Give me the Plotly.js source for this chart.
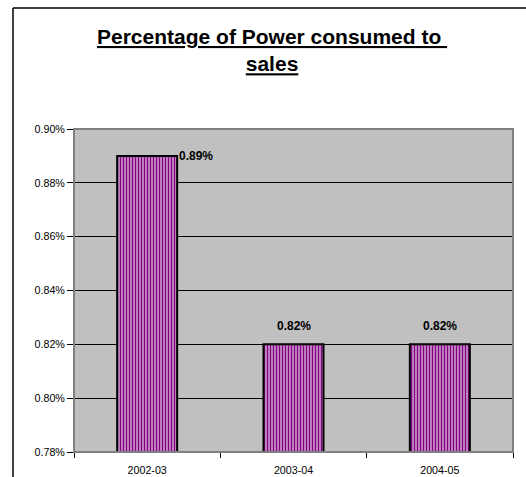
<!DOCTYPE html>
<html>
<head>
<meta charset="utf-8">
<script src="https://cdn.plot.ly/plotly-3.0.1.min.js"></script>
<style>
  html, body { margin: 0; padding: 0; background: #ffffff; }
  #chart { width: 526px; height: 477px; }
</style>
</head>
<body>
<div id="chart"></div>
<script>
// Power consumed as a percentage of sales, by financial year
const chartTitle = '<u>Percentage of Power consumed to </u><br><u>sales</u>';
const years = ['2002-03', '2003-04', '2004-05'];
const powerPct = [0.89, 0.82, 0.82];
const yTicks = [0.78, 0.80, 0.82, 0.84, 0.86, 0.88, 0.90];

const W = 526, H = 477;
const M = { l: 74, r: 13, t: 129, b: 25 };
const plotW = W - M.l - M.r, plotH = H - M.t - M.b;
// convert page pixels to paper coordinates for items outside the plot area
const px = x => (x - M.l) / plotW;
const py = y => (H - M.b - y) / plotH;

const barWidth = 0.41;

const trace = {
  type: 'bar',
  x: years,
  y: powerPct,
  width: barWidth,
  marker: {
    color: '#ffffff',
    line: { color: '#000000', width: 2 },
    pattern: { shape: '|', fgcolor: '#800080', bgcolor: '#ffffff', size: 3, solidity: 0.68 }
  },
  hoverinfo: 'skip'
};

// value labels: first bar's label sits beside its top, others above the bar
const labelFont = { family: 'Liberation Sans, Arial, sans-serif', size: 12, color: '#000000', weight: 'bold' };
const annotations = powerPct.map((v, i) => {
  const txt = '<b>' + v.toFixed(2) + '%</b>';
  if (i === 0) {
    return { x: i + barWidth / 2, y: v, xref: 'x', yref: 'y', text: txt, showarrow: false,
             xanchor: 'left', yanchor: 'middle', xshift: 0, font: labelFont };
  }
  return { x: i, y: v, xref: 'x', yref: 'y', text: txt, showarrow: false,
           xanchor: 'center', yanchor: 'bottom', yshift: 9, font: labelFont };
});

// chart title, two underlined bold lines
annotations.push({
  text: chartTitle, showarrow: false,
  xref: 'paper', yref: 'paper', x: px(272), y: py(23),
  xanchor: 'center', yanchor: 'top', align: 'center',
  font: { family: 'Liberation Sans, Arial, sans-serif', size: 21, color: '#000000', weight: 'bold' }
});

const shapes = [
  // plot area border
  { type: 'rect', xref: 'paper', yref: 'paper', x0: 0, x1: 1, y0: 0, y1: 1,
    line: { color: '#808080', width: 2 }, layer: 'above' },
  // chart frame (left and top edges)
  { type: 'line', xref: 'paper', yref: 'paper', x0: px(13), x1: px(13), y0: py(8), y1: py(478),
    line: { color: '#000000', width: 1.5 } },
  { type: 'line', xref: 'paper', yref: 'paper', x0: px(13), x1: px(530), y0: py(8), y1: py(8),
    line: { color: '#000000', width: 1.5 } }
];

const tickFont = { family: 'Liberation Sans, Arial, sans-serif', size: 10.7, color: '#000000' };

const layout = {
  width: W,
  height: H,
  margin: M,
  paper_bgcolor: '#ffffff',
  plot_bgcolor: '#c0c0c0',
  showlegend: false,
  xaxis: {
    type: 'category',
    tickson: 'boundaries',
    ticks: 'outside',
    ticklen: 5,
    tickcolor: '#000000',
    showline: true,
    linecolor: '#000000',
    linewidth: 1,
    showgrid: false,
    tickfont: tickFont,
    ticklabelstandoff: 8,
    fixedrange: true
  },
  yaxis: {
    range: [0.78, 0.90],
    tickvals: yTicks,
    ticktext: yTicks.map(v => v.toFixed(2) + '%'),
    ticks: 'outside',
    ticklen: 6,
    tickcolor: '#000000',
    showline: true,
    linecolor: '#000000',
    linewidth: 1,
    showgrid: true,
    gridcolor: '#000000',
    gridwidth: 1,
    zeroline: false,
    tickfont: tickFont,
    fixedrange: true
  },
  annotations: annotations,
  shapes: shapes
};

Plotly.newPlot('chart', [trace], layout, { displayModeBar: false, staticPlot: true });
</script>
</body>
</html>
